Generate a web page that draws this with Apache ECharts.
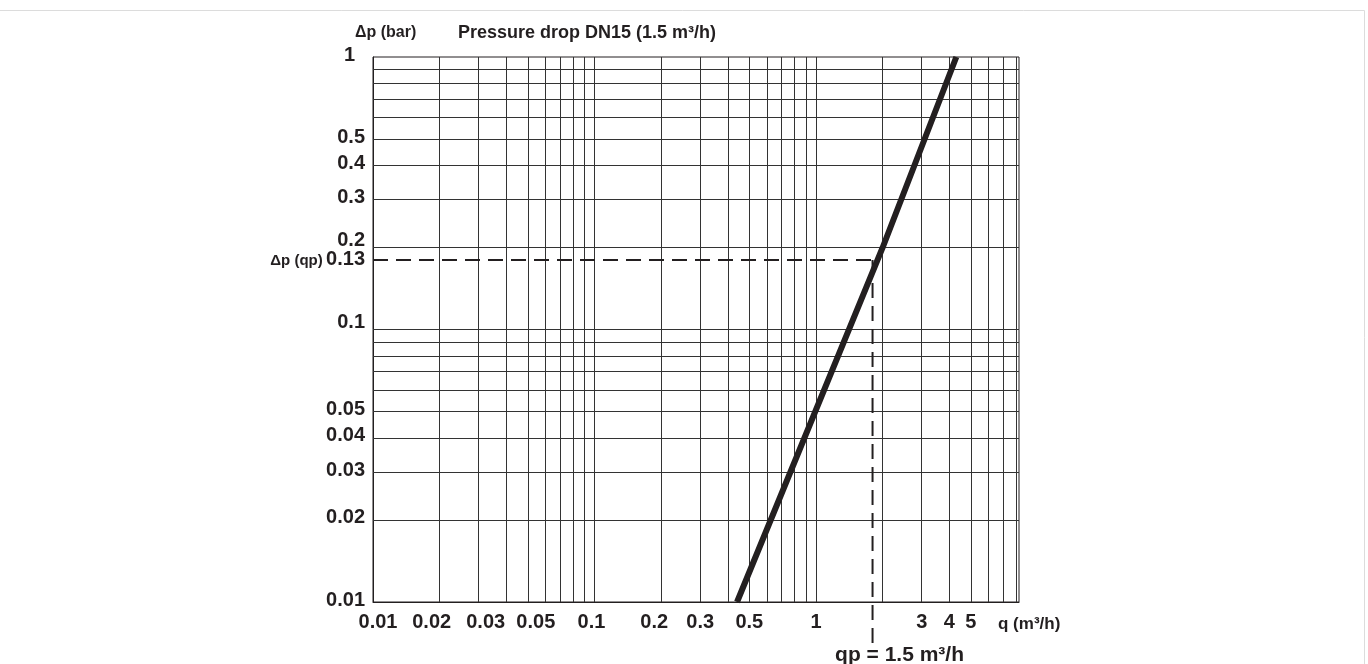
<!DOCTYPE html>
<html>

<head>
    <meta charset="utf-8" />
    <script src="https://cdn.jsdelivr.net/npm/echarts@6/dist/echarts.min.js"></script>
</head>

<body>
    <style>
        html,
        body {
            margin: 0;
            height: 100%;
            background: #fff;
        }

        #main {
            width: 1368px;
            height: 664px;
        }
    </style>
    <div id="main"></div>

    <script type="text/javascript">
        // tick labels
        const xLabels = [0.01, 0.02, 0.03, 0.05, 0.1, 0.2, 0.3, 0.5, 1, 3, 4, 5];
        const yLabels = [0.01, 0.02, 0.03, 0.04, 0.05, 0.1, 0.2, 0.3, 0.4, 0.5, 1];
        // grid lines (log paper)
        const xGrid = [0.02, 0.03, 0.04, 0.05, 0.06, 0.07, 0.08, 0.09, 0.1,
            0.2, 0.3, 0.4, 0.5, 0.6, 0.7, 0.8, 0.9, 1, 2, 3, 4, 5, 6, 7, 8];
        const yGrid = [0.02, 0.03, 0.04, 0.05, 0.06, 0.07, 0.08, 0.09, 0.1,
            0.2, 0.3, 0.4, 0.5, 0.6, 0.7, 0.8, 0.9];
        // pressure drop curve q (m3/h) -> dp (bar)
        const curve = [[0.44, 0.01], [2.0, 0.2], [4.3, 1]];
        // qp reading lines
        const qpFlow = 1.8;
        const qpDrop = 0.18;
        const qpBottom = 0.0069;
        const hDash = [[0.01, qpDrop], [qpFlow, qpDrop]];
        const vDash = [[qpFlow, qpDrop], [qpFlow, qpBottom]];

        const INK = '#231f20';
        const FONT = 'Liberation Sans, Arial, sans-serif';
        const LABEL = { fontSize: 20, fontWeight: 'bold', color: INK, fontFamily: FONT };
        const fmt = (v) => String(Number((+v).toPrecision(2)));

        // the printed labels are nudged by hand on the original sheet
        const xNudge = { '0.01': 's5', '0.02': 'n8', '0.03': 's7', '0.05': 's8', '0.1': 'n3', '0.2': 'n7' };
        const yNudge = { '1': 'left', '0.1': 'up', '0.2': 'up' };
        const xRich = {
            s5: Object.assign({ padding: [0, 0, 0, 10] }, LABEL),
            s7: Object.assign({ padding: [0, 0, 0, 14] }, LABEL),
            s8: Object.assign({ padding: [0, 0, 0, 16] }, LABEL),
            n3: Object.assign({ padding: [0, 6, 0, 0] }, LABEL),
            n7: Object.assign({ padding: [0, 14, 0, 0] }, LABEL),
            n8: Object.assign({ padding: [0, 16, 0, 0] }, LABEL),
        };
        const yRich = {
            base: Object.assign({ padding: [0, 0, 4, 0] }, LABEL),
            left: Object.assign({ padding: [0, 10, 4, 0] }, LABEL),
            up: Object.assign({ padding: [0, 0, 14, 0] }, LABEL),
        };

        var chart = echarts.init(document.getElementById('main'), null, { renderer: 'canvas' });
        chart.setOption({
            animation: false,
            backgroundColor: '#fff',
            textStyle: { fontFamily: FONT, color: INK },
            grid: {
                show: true,
                top: 57,
                left: 373,
                right: 349,
                bottom: 62,
                borderColor: INK,
                borderWidth: 1,
            },
            graphic: [
                {
                    type: 'polyline',
                    silent: true,
                    shape: { points: [[0, 10.5], [1364.5, 10.5], [1364.5, 664]] },
                    style: { stroke: '#dcdcdc', fill: null, lineWidth: 1 },
                },
                {
                    type: 'text', x: 355, y: 33, silent: true,
                    style: { text: '\u0394p (bar)', font: 'bold 16px ' + FONT, fill: INK, verticalAlign: 'middle' },
                },
                {
                    type: 'text', x: 458, y: 33, silent: true,
                    style: { text: 'Pressure drop DN15 (1.5 m\u00b3/h)', font: 'bold 18px ' + FONT, fill: INK, verticalAlign: 'middle' },
                },
                {
                    type: 'text', x: 998, y: 624, silent: true,
                    style: { text: 'q (m\u00b3/h)', font: 'bold 17px ' + FONT, fill: INK, verticalAlign: 'middle' },
                },
            ],
            xAxis: {
                type: 'log',
                logBase: 10,
                min: 0.01,
                max: 8.25,
                axisLine: { show: true, lineStyle: { color: INK, width: 1 } },
                axisTick: { show: false },
                splitLine: { show: false },
                axisLabel: Object.assign({
                    customValues: xLabels,
                    formatter: (v) => {
                        const s = fmt(v);
                        return xNudge[s] ? '{' + xNudge[s] + '|' + s + '}' : s;
                    },
                    rich: xRich,
                    margin: 10,
                    hideOverlap: false,
                }, LABEL),
            },
            yAxis: {
                type: 'log',
                logBase: 10,
                min: 0.01,
                max: 1,
                axisLine: { show: true, lineStyle: { color: INK, width: 1 } },
                axisTick: { show: false },
                splitLine: { show: false },
                axisLabel: Object.assign({
                    customValues: yLabels,
                    formatter: (v) => {
                        const s = fmt(v);
                        return '{' + (yNudge[s] || 'base') + '|' + s + '}';
                    },
                    rich: yRich,
                    margin: 8,
                    hideOverlap: false,
                }, LABEL),
            },
            series: [
                {
                    // horizontal reading line + the paper grid
                    type: 'line',
                    data: hDash,
                    showSymbol: false,
                    symbol: 'none',
                    silent: true,
                    z: 10,
                    lineStyle: { color: INK, width: 2, type: [15, 8] },
                    markLine: {
                        silent: true,
                        symbol: ['none', 'none'],
                        label: { show: false },
                        lineStyle: { color: '#333', width: 1, type: 'solid' },
                        emphasis: { disabled: true },
                        data: xGrid.map((v) => ({ xAxis: v })).concat(yGrid.map((v) => ({ yAxis: v }))),
                    },
                },
                {
                    type: 'line',
                    data: vDash,
                    showSymbol: false,
                    symbol: 'none',
                    silent: true,
                    clip: false,
                    z: 10,
                    lineStyle: { color: INK, width: 2, type: [15, 8] },
                },
                {
                    type: 'line',
                    data: curve,
                    showSymbol: false,
                    symbol: 'none',
                    silent: true,
                    z: 12,
                    lineStyle: { color: INK, width: 6, cap: 'butt' },
                },
                {
                    // annotation anchors
                    type: 'scatter',
                    symbolSize: 0,
                    silent: true,
                    clip: false,
                    z: 12,
                    itemStyle: { opacity: 1, color: INK },
                    data: [
                        {
                            value: [0.01, qpDrop],
                            label: {
                                show: true,
                                position: 'left',
                                distance: 8,
                                formatter: '{a|\u0394p (qp)} {b|0.13}',
                                rich: {
                                    a: { fontSize: 15, fontWeight: 'bold', color: INK, fontFamily: FONT, padding: [2, 0, 0, 0] },
                                    b: Object.assign({}, LABEL),
                                },
                            },
                        },
                        {
                            value: [qpFlow, qpBottom],
                            label: {
                                show: true,
                                position: 'bottom',
                                distance: 0,
                                offset: [27, -1],
                                formatter: 'qp = 1.5 m\u00b3/h',
                                fontSize: 21,
                                fontWeight: 'bold',
                                color: INK,
                                fontFamily: FONT,
                            },
                        },
                    ],
                },
            ],
        });
    </script>
</body>

</html>
